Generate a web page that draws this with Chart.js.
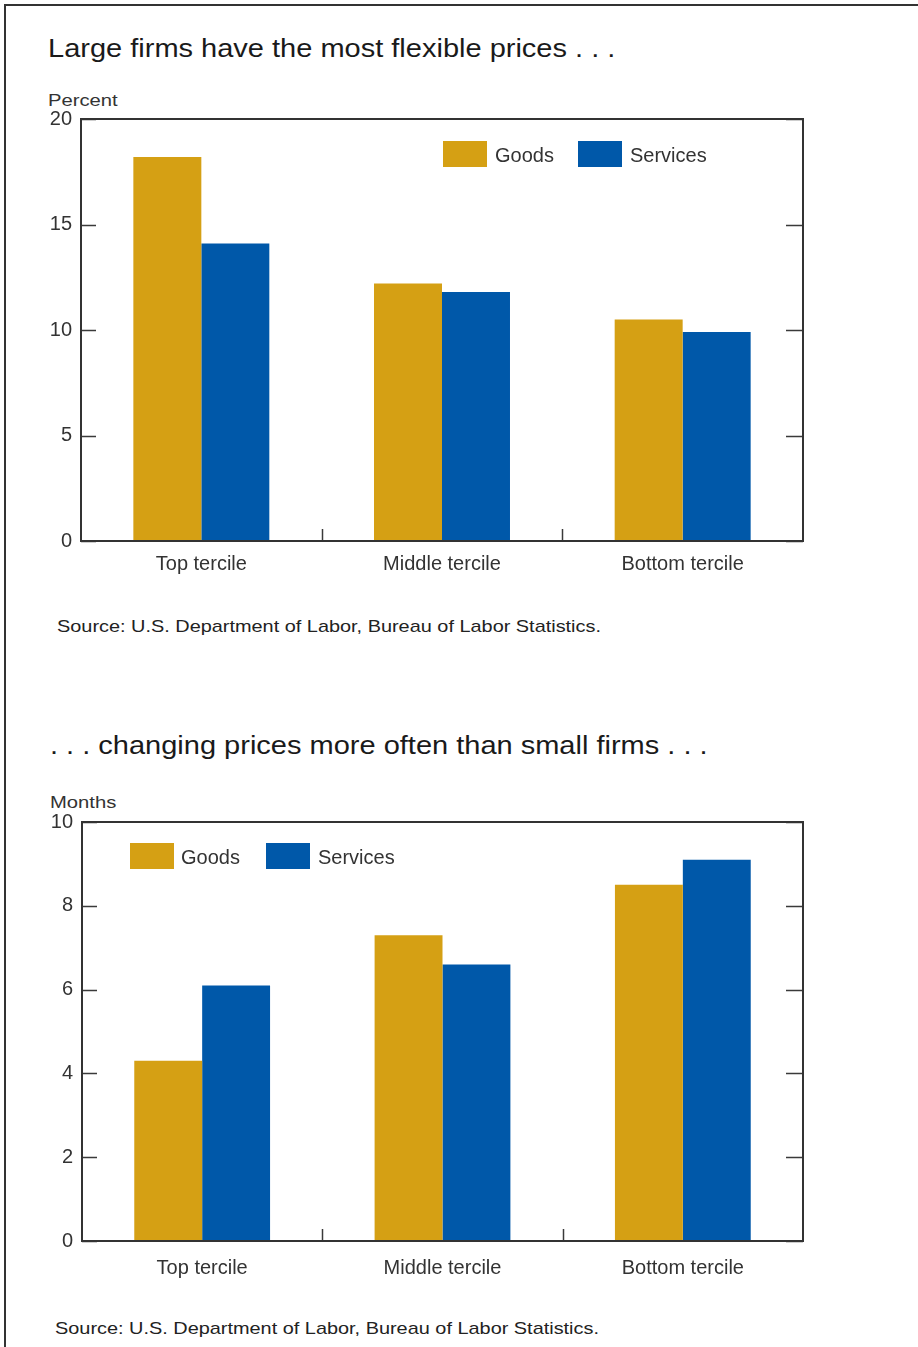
<!DOCTYPE html>
<html>
<head>
<meta charset="utf-8">
<script src="https://cdn.jsdelivr.net/npm/chart.js@4.4.1/dist/chart.umd.min.js"></script>
<style>
  html, body { margin: 0; padding: 0; background: #fff; }
  body { width: 918px; height: 1347px; position: relative; overflow: hidden;
         font-family: "Liberation Sans", Arial, sans-serif; color: #222; }
  .frame { position: absolute; left: 4px; top: 4px; right: -4px; bottom: -4px;
           border-top: 2px solid #333; border-left: 2px solid #333; }
  .txt { position: absolute; white-space: nowrap; line-height: 1; transform-origin: left center; }
  .title { font-size: 25px; color: #1a1a1a; transform: scaleX(1.16); }
  .unit { font-size: 17px; color: #333; transform: scaleX(1.19); }
  .source { font-size: 17px; color: #222; transform: scaleX(1.17); }
  .box { position: absolute; width: 44px; height: 26px; }
  .leg { position: absolute; font-size: 20px; color: #333; line-height: 1; }
  canvas { position: absolute; left: 0; }
</style>
</head>
<body>
<div class="frame"></div>

<div class="txt title" style="left:48px; top:36px;">Large firms have the most flexible prices . . .</div>
<div class="txt unit" style="left:48px; top:92px;">Percent</div>
<canvas id="chart-flex" width="918" height="482" style="top:98px;"></canvas>
<div id="legend-flex"></div>
<div class="txt source" style="left:57px; top:618px;">Source: U.S. Department of Labor, Bureau of Labor Statistics.</div>

<div class="txt title" style="left:50px; top:733px;">. . . changing prices more often than small firms . . .</div>
<div class="txt unit" style="left:50px; top:794px;">Months</div>
<canvas id="chart-dur" width="918" height="481" style="top:801px;"></canvas>
<div id="legend-dur"></div>
<div class="txt source" style="left:55px; top:1320px;">Source: U.S. Department of Labor, Bureau of Labor Statistics.</div>

<script>
const categories = ['Top tercile', 'Middle tercile', 'Bottom tercile'];
const seriesNames = ['Goods', 'Services'];
const seriesColors = ['#D5A014', '#0058A9'];

// Porcentaje de precios que cambian cada mes
const flexGoods = [18.2, 12.2, 10.5];
const flexServices = [14.1, 11.8, 9.9];
const flexTicks = [0, 5, 10, 15, 20];

// Meses entre cambios de precio
const durGoods = [4.3, 7.3, 8.5];
const durServices = [6.1, 6.6, 9.1];
const durTicks = [0, 2, 4, 6, 8, 10];

// Marco del área y marcas hacia adentro
const framePlugin = {
  id: 'framePlugin',
  afterDraw(chart) {
    const { ctx, chartArea: a, scales } = chart;
    ctx.save();
    ctx.strokeStyle = '#3a3a3a';
    ctx.lineWidth = 1.5;
    scales.y.ticks.forEach(t => {
      const y = Math.round(scales.y.getPixelForValue(t.value)) + 0.5;
      ctx.beginPath();
      ctx.moveTo(a.left, y); ctx.lineTo(a.left + 15, y);
      ctx.moveTo(a.right, y); ctx.lineTo(a.right - 17, y);
      ctx.stroke();
    });
    for (let i = 1; i < categories.length; i++) {
      const x = Math.round((scales.x.getPixelForTick(i - 1) + scales.x.getPixelForTick(i)) / 2) + 0.5;
      ctx.beginPath();
      ctx.moveTo(x, a.bottom); ctx.lineTo(x, a.bottom - 12);
      ctx.stroke();
    }
    ctx.lineWidth = 2;
    ctx.strokeStyle = '#333';
    ctx.strokeRect(a.left, a.top, a.right - a.left, a.bottom - a.top);
    ctx.restore();
  }
};

const makeChart = (canvasId, goods, services, ticks, padTop, axisLeft, axisBottom, labelPad) => {
  const ctx = document.getElementById(canvasId).getContext('2d');
  return new Chart(ctx, {
    type: 'bar',
    data: {
      labels: categories,
      datasets: [
        { label: seriesNames[0], data: goods, backgroundColor: seriesColors[0] },
        { label: seriesNames[1], data: services, backgroundColor: seriesColors[1] }
      ]
    },
    options: {
      responsive: false,
      animation: false,
      categoryPercentage: 0.565,
      barPercentage: 1.0,
      layout: { padding: { top: padTop, right: 115, left: 0, bottom: 0 } },
      plugins: { legend: { display: false }, tooltip: { enabled: false } },
      scales: {
        x: {
          grid: { display: false, drawTicks: false },
          border: { display: false },
          ticks: { padding: labelPad, color: '#333', font: { family: 'Liberation Sans', size: 20 } },
          afterFit(scale) { scale.height = axisBottom; }
        },
        y: {
          min: ticks[0],
          max: ticks[ticks.length - 1],
          afterBuildTicks(scale) { scale.ticks = ticks.map(v => ({ value: v })); },
          grid: { display: false, drawTicks: false },
          border: { display: false },
          ticks: { padding: 9, color: '#333', font: { family: 'Liberation Sans', size: 20 } },
          afterFit(scale) { scale.width = axisLeft; }
        }
      }
    },
    plugins: [framePlugin]
  });
};

// Leyenda en HTML dentro del área
const makeLegend = (id, boxes) => {
  const el = document.getElementById(id);
  el.innerHTML = seriesNames.map((name, i) => `
    <div class="box" style="left:${boxes[i].x}px; top:${boxes[i].y}px; background:${seriesColors[i]};"></div>
    <div class="leg" style="left:${boxes[i].tx}px; top:${boxes[i].y + 4}px;">${name}</div>
  `).join('');
};

makeChart('chart-flex', flexGoods, flexServices, flexTicks, 7, 81, 39, 11);
makeChart('chart-dur', durGoods, durServices, durTicks, 8, 82, 41, 15);
makeLegend('legend-flex', [{ x: 443, y: 141, tx: 495 }, { x: 578, y: 141, tx: 630 }]);
makeLegend('legend-dur', [{ x: 130, y: 843, tx: 181 }, { x: 266, y: 843, tx: 318 }]);
</script>
</body>
</html>
